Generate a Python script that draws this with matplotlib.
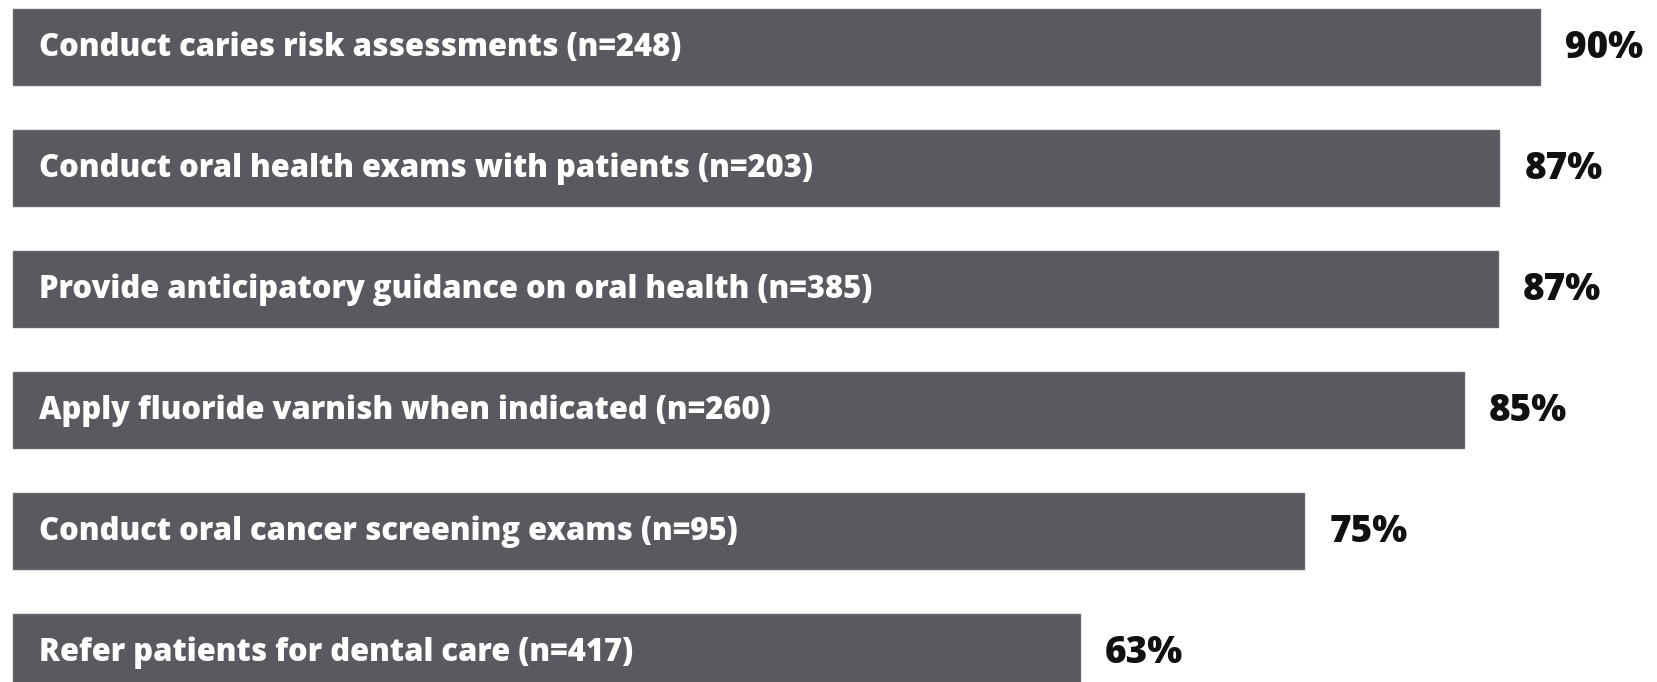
import matplotlib
matplotlib.use("Agg")
import matplotlib.pyplot as plt

categories = [
    "Conduct caries risk assessments (n=248)",
    "Conduct oral health exams with patients (n=203)",
    "Provide anticipatory guidance on oral health (n=385)",
    "Apply fluoride varnish when indicated (n=260)",
    "Conduct oral cancer screening exams (n=95)",
    "Refer patients for dental care (n=417)",
]
# bar lengths as drawn in the picture
values = [90, 87.6, 87.5, 85.5, 76.1, 62.9]
value_labels = ["90%", "87%", "87%", "85%", "75%", "63%"]

W, H = 1658, 682
fig = plt.figure(figsize=(W / 100, H / 100), dpi=100)
ax = fig.add_axes([0, 0, 1, 1])

px_per_unit = 1527 / 90.0
left_px = 13
ax.set_xlim(-left_px / px_per_unit, (W - left_px) / px_per_unit)
pitch = 121.0
first_center = 47.0
ax.set_ylim((H - first_center) / pitch, -first_center / pitch)

ypos = list(range(len(categories)))
ax.barh(ypos, values, height=76 / pitch, color="#595a5f", edgecolor="#66676c", linewidth=1.0)

for y, cat, v, lab in zip(ypos, categories, values, value_labels):
    ax.text(26 / px_per_unit, y + 0.01, cat, ha="left", va="center", color="white",
            fontsize=22.3, fontweight=800, family="Open Sans")
    ax.text(v + 25 / px_per_unit, y + 0.01, lab, ha="left", va="center", color="#111111",
            fontsize=26.6, fontweight=800, family="Open Sans")

ax.axis("off")
fig.savefig("out.png", dpi=100, facecolor="white")
